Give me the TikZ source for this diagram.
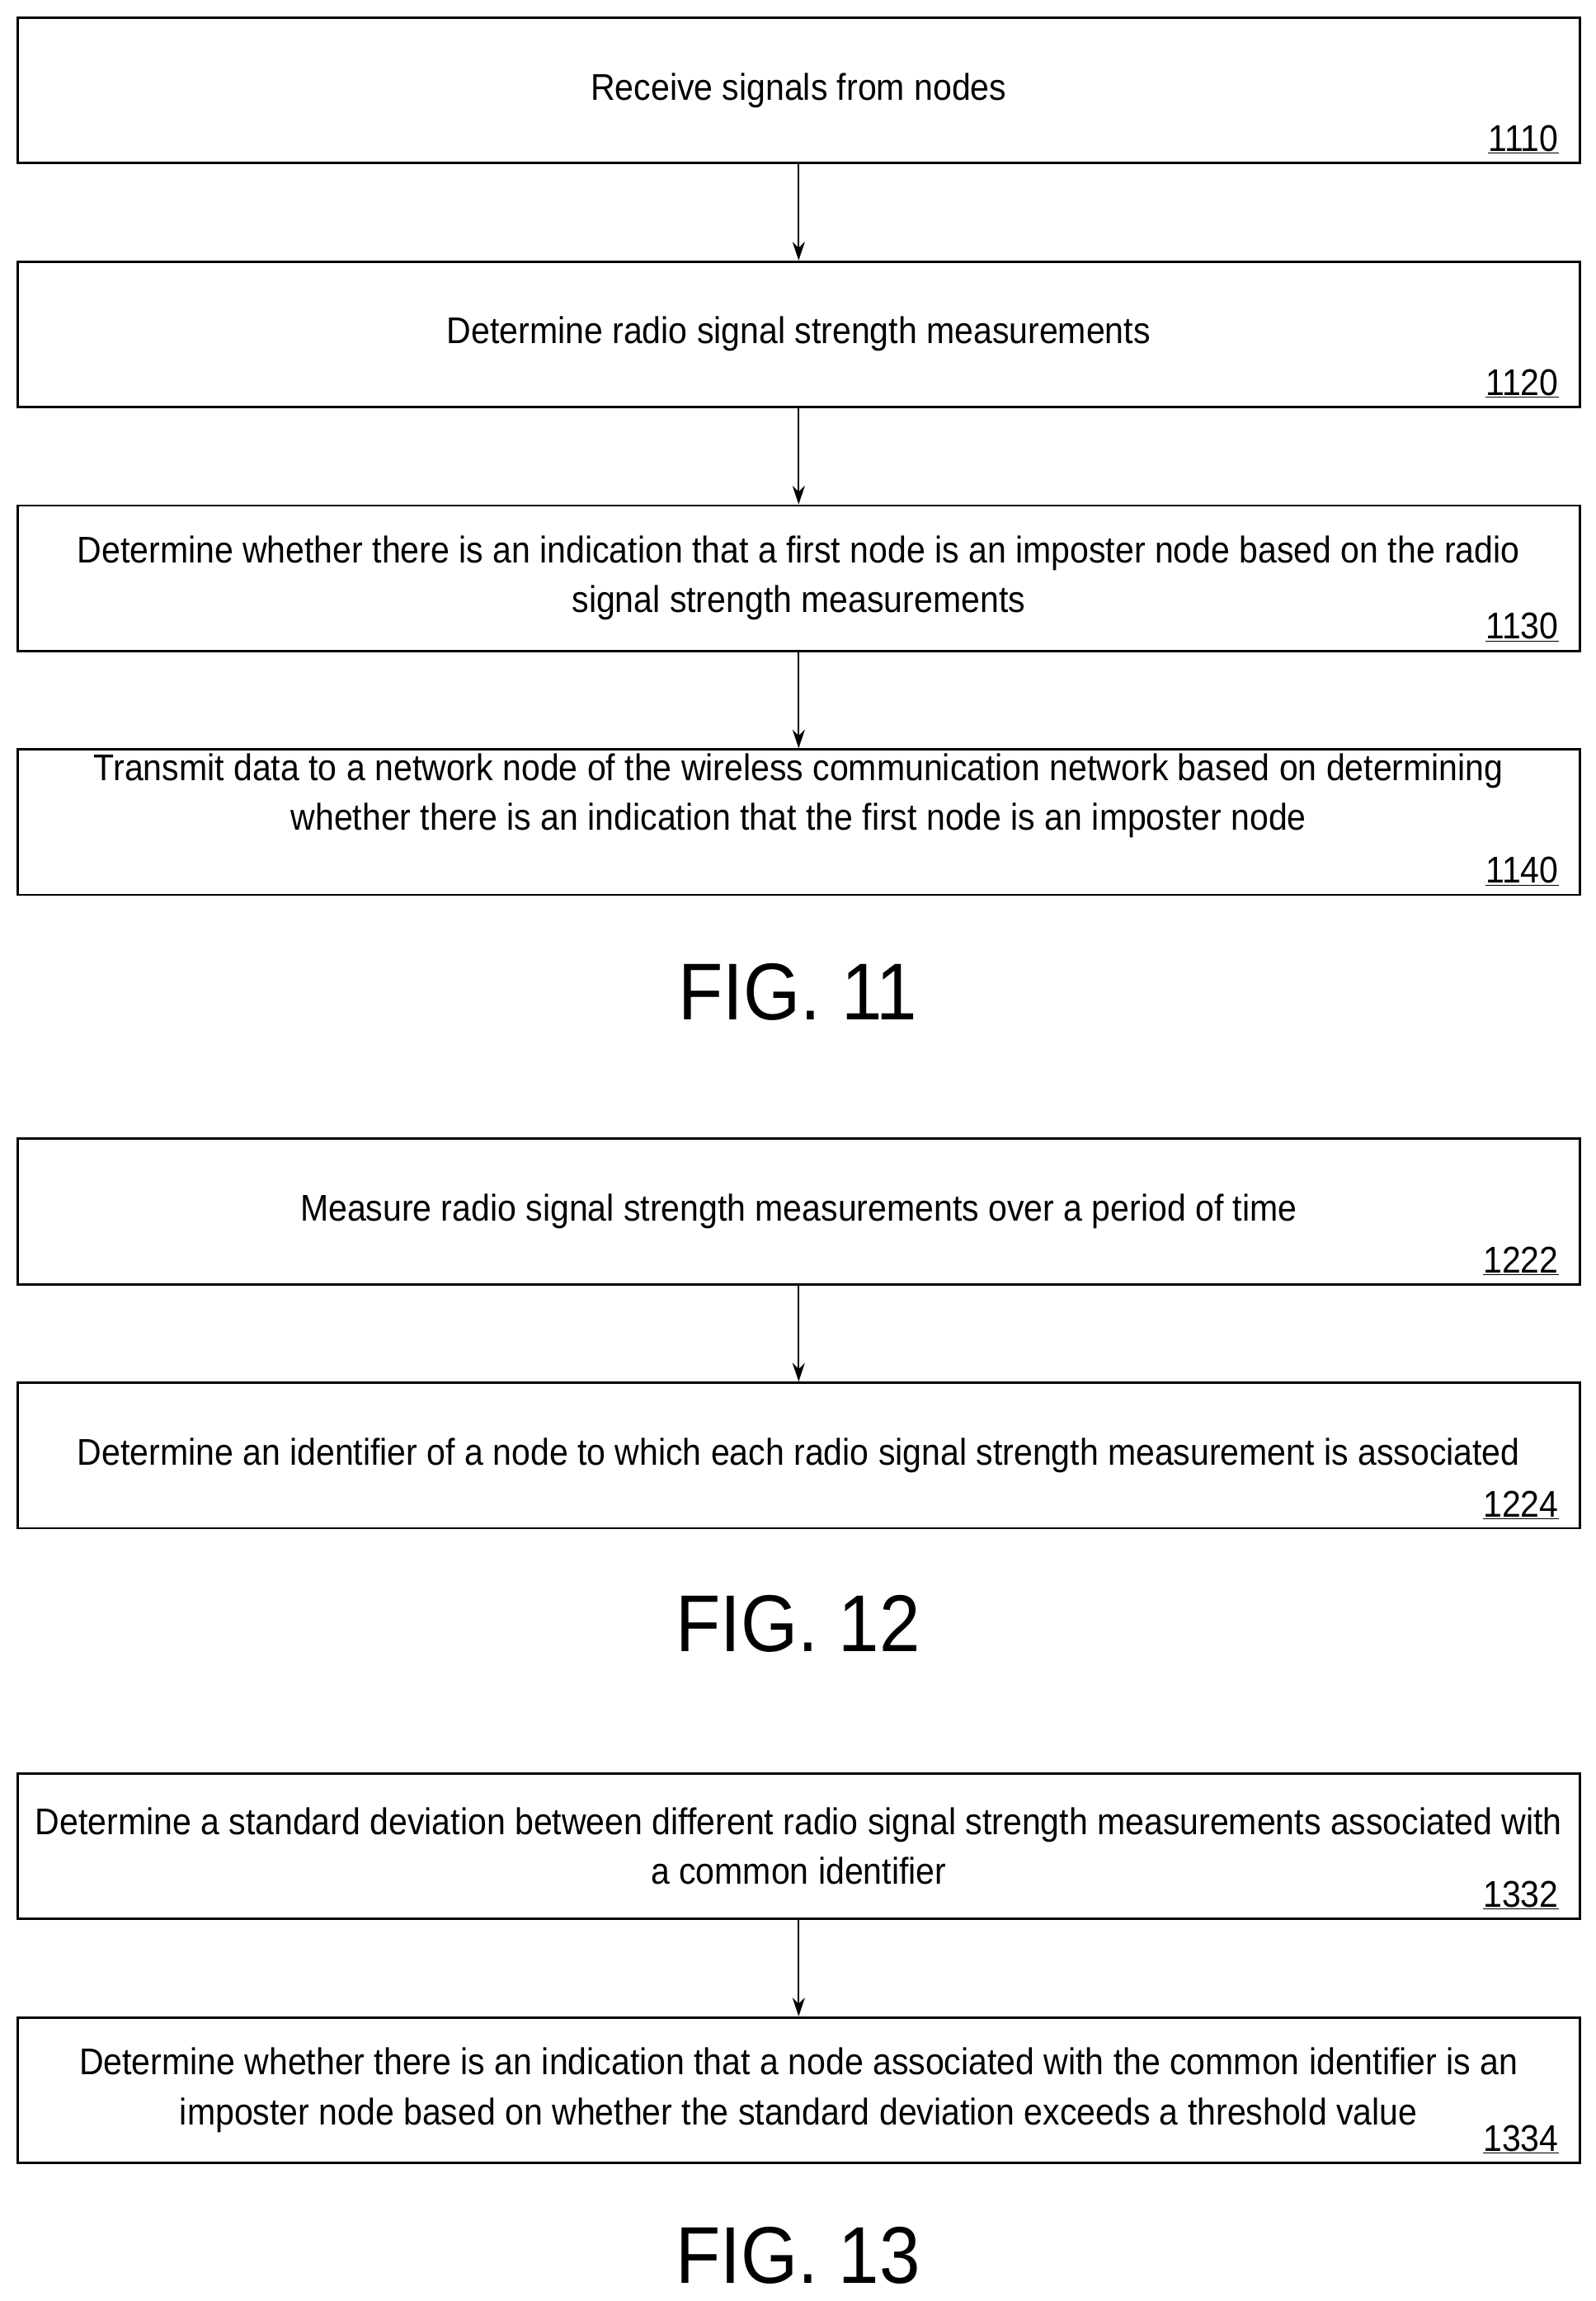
\documentclass[tikz,border=0pt]{standalone}
\usepackage{fontspec}
\setmainfont{Liberation Sans}[FakeStretch=0.91]
\usetikzlibrary{arrows.meta}
\begin{document}
\begin{tikzpicture}[x=0.05cm,y=-0.05cm,
  box/.style={draw,line width=2.2pt,inner sep=0pt,minimum width=53.15cm,minimum height=4.95cm,align=center,font=\fontsize{36}{48}\selectfont},
  lab/.style={anchor=south east,inner sep=0pt,font=\fontsize{36}{48}\selectfont},
  fig/.style={font=\fontsize{78}{90}\selectfont},
  arr/.style={line width=1.6pt,-{Stealth[length=18pt,width=12pt]}}]
\useasboundingbox (0,0) rectangle (1086,1566);
\node[box] (a) at (543.5,61.5) {Receive signals from nodes};
\node[box] (b) at (543.5,227.5) {Determine radio signal strength measurements};
\node[box] (c) at (543.5,393.5) {Determine whether there is an indication that a first node is an imposter node based on the radio\\signal strength measurements};
\node[box] (d) at (543.5,559.5) {Transmit data to a network node of the wireless communication network based on determining\\whether there is an indication that the first node is an imposter node\\[10pt]};
\node[box] (e) at (543.5,824.5) {Measure radio signal strength measurements over a period of time};
\node[box] (f) at (543.5,990.5) {Determine an identifier of a node to which each radio signal strength measurement is associated};
\node[box] (g) at (543.5,1256.5) {Determine a standard deviation between different radio signal strength measurements associated with\\a common identifier};
\node[box] (h) at (543.5,1422.5) {Determine whether there is an indication that a node associated with the common identifier is an\\imposter node based on whether the standard deviation exceeds a threshold value};
\foreach \n/\l in {a/1110,b/1120,c/1130,d/1140,e/1222,f/1224,g/1332,h/1334}
  \node[lab] (l\n) at ([xshift=-0.75cm,yshift=0.35cm]\n.south east) {\underline{\l}};
\node[fig] (f11) at (543,675) {FIG. 11};
\node[fig] (f12) at (543,1105) {FIG. 12};
\node[fig] (f13) at (543,1535) {FIG. 13};
\draw[arr] (a) -- (b);
\draw[arr] (b) -- (c);
\draw[arr] (c) -- (d);
\draw[arr] (e) -- (f);
\draw[arr] (g) -- (h);
\end{tikzpicture}
\end{document}
